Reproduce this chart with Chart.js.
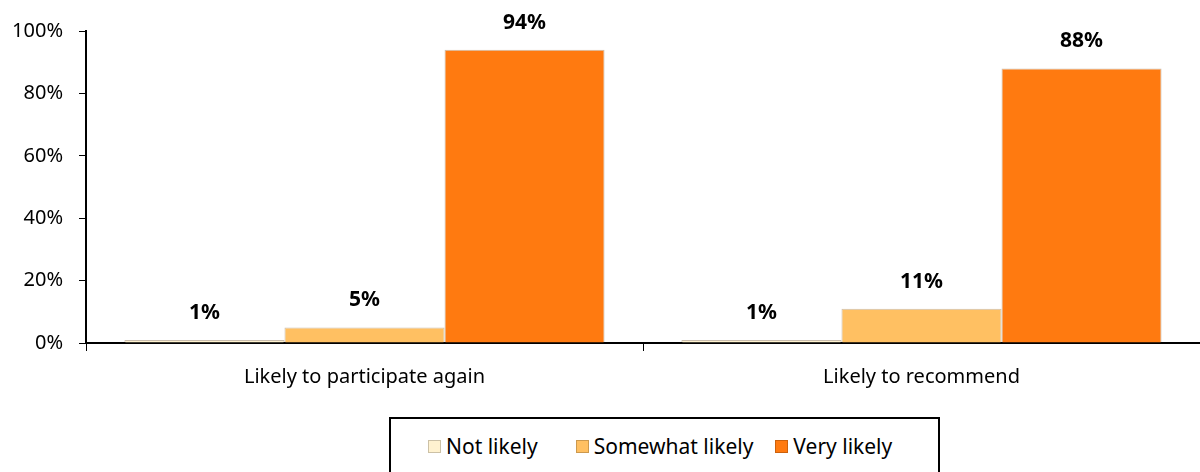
<!DOCTYPE html>
<html>
<head>
<meta charset="utf-8">
<script src="https://cdn.jsdelivr.net/npm/chart.js@4"></script>
<style>
    html, body { margin: 0; padding: 0; background: #fff; }
    #wrap { position: relative; width: 1200px; height: 472px; }
    #chartBox { position: absolute; left: 0; top: 0; width: 1200px; height: 410px; }
    #legend {
        position: absolute; left: 389px; top: 417px; width: 551px; height: 60px;
        border: 2px solid #000; box-sizing: border-box;
        font-family: "Noto Sans", sans-serif; font-size: 21px; color: #000;
        display: flex; align-items: center; justify-content: flex-start;
        padding-left: 37px; padding-bottom: 2px;
    }
    #legend span.item { display: flex; align-items: center; }
    #legend span.item:nth-child(1) { margin-right: 38px; }
    #legend span.item:nth-child(2) { margin-right: 22px; }
    #legend span.sw { display: inline-block; width: 13px; height: 13px; margin-right: 5px; box-sizing: border-box; border: 1px solid rgba(0,0,0,0.2); }
</style>
</head>
<body>
<div id="wrap">
    <div id="chartBox"><canvas id="myChart"></canvas></div>
    <div id="legend"></div>
</div>
<script>
// Chart data
const categories = ['Likely to participate again', 'Likely to recommend'];
const notLikely = [1, 1];
const somewhatLikely = [5, 11];
const veryLikely = [94, 88];
const seriesNames = ['Not likely', 'Somewhat likely', 'Very likely'];
const seriesColors = ['#FFF2D0', '#FFC062', '#FF7A10'];
const fontFamily = '"Noto Sans", sans-serif';

// Data labels above each bar
const valueLabels = {
    id: 'valueLabels',
    afterDatasetsDraw(chart) {
        const ctx = chart.ctx;
        ctx.save();
        ctx.font = 'bold 21px ' + fontFamily;
        ctx.fillStyle = '#000';
        ctx.textAlign = 'center';
        ctx.textBaseline = 'middle';
        chart.data.datasets.forEach((ds, i) => {
            chart.getDatasetMeta(i).data.forEach((bar, j) => {
                ctx.fillText(ds.data[j] + '%', bar.x, bar.y - 27);
            });
        });
        ctx.restore();
    }
};

const ctx = document.getElementById('myChart').getContext('2d');
const chart = new Chart(ctx, {
    type: 'bar',
    data: {
        labels: categories,
        datasets: [
            { label: seriesNames[0], data: notLikely, backgroundColor: seriesColors[0] },
            { label: seriesNames[1], data: somewhatLikely, backgroundColor: seriesColors[1] },
            { label: seriesNames[2], data: veryLikely, backgroundColor: seriesColors[2] }
        ].map(ds => Object.assign(ds, {
            borderColor: 'rgba(120, 90, 50, 0.4)',
            borderWidth: 1,
            barPercentage: 1,
            categoryPercentage: 0.862
        }))
    },
    options: {
        responsive: true,
        maintainAspectRatio: false,
        animation: false,
        layout: { padding: { top: 31, right: 0, left: 0, bottom: 0 } },
        plugins: {
            legend: { display: false },
            tooltip: { enabled: false }
        },
        scales: {
            x: {
                grid: { display: true, drawOnChartArea: false, offset: true, tickLength: 8, color: '#000', lineWidth: 1 },
                border: { color: '#000', width: 2 },
                ticks: { color: '#000', font: { family: fontFamily, size: 20 }, padding: 14 },
                afterFit: scale => { scale.height = 67; }
            },
            y: {
                min: 0,
                max: 100,
                grid: { display: true, drawOnChartArea: false, tickLength: 7, color: '#000', lineWidth: 1 },
                border: { color: '#000', width: 2 },
                ticks: {
                    stepSize: 20,
                    color: '#000',
                    font: { family: fontFamily, size: 20 },
                    padding: 16,
                    callback: v => v + '%'
                },
                afterFit: scale => { scale.width = 86; }
            }
        }
    },
    plugins: [valueLabels]
});

// HTML legend built from datasets
const legendEl = document.getElementById('legend');
chart.data.datasets.forEach(ds => {
    const item = document.createElement('span');
    item.className = 'item';
    item.innerHTML = `<span class="sw" style="background:${ds.backgroundColor}"></span>${ds.label}`;
    legendEl.appendChild(item);
});
</script>
</body>
</html>
